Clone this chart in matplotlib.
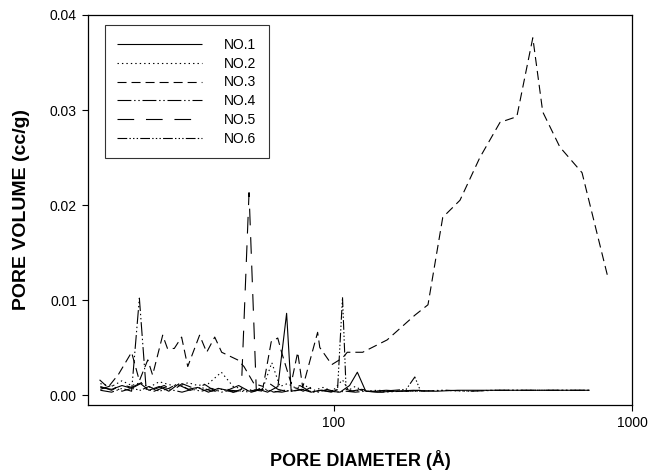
import numpy as np
import matplotlib
matplotlib.use('Agg')
import matplotlib.pyplot as plt

plt.rcParams['font.family'] = ['Liberation Sans', 'DejaVu Sans']
plt.rcParams['lines.scale_dashes'] = False

# pore diameter (A) / pore volume (cc/g)
x1 = [16.5, 18, 19.5, 21, 22.5, 24, 26, 28, 30, 32.5, 35, 38, 41, 44, 48, 52, 56, 60, 65, 69.5,
      72, 78, 84, 90, 97, 105, 113, 120, 128, 140, 160, 185, 220, 260, 310, 370, 440, 520, 620, 720]
y1 = [0.0008, 0.0006, 0.0010, 0.0007, 0.0012, 0.0005, 0.0009, 0.0004, 0.0011, 0.0006,
      0.0008, 0.0003, 0.0007, 0.0005, 0.0010, 0.0004, 0.0006, 0.0003, 0.0009, 0.0086,
      0.0004, 0.0006, 0.0003, 0.0005, 0.0004, 0.0003, 0.0010, 0.0024, 0.0004, 0.0003,
      0.0004, 0.0005, 0.0004, 0.0005, 0.0005, 0.0005, 0.0005, 0.0005, 0.0005, 0.0005]

x2 = [16.5, 18, 19.5, 21, 22.5, 24, 26, 28, 30, 32.5, 35, 38, 42, 46, 50, 54, 58, 62, 66, 70,
      75, 80, 86, 92, 99, 107, 112, 118, 126, 140, 160, 190, 230, 280, 340, 420, 520, 620, 720]
y2 = [0.0012, 0.0009, 0.0015, 0.0010, 0.0013, 0.0008, 0.0014, 0.0011, 0.0009, 0.0013,
      0.0010, 0.0012, 0.0024, 0.0009, 0.0006, 0.0005, 0.0008, 0.0034, 0.0009, 0.0012,
      0.0007, 0.0010, 0.0005, 0.0008, 0.0004, 0.0016, 0.0005, 0.0009, 0.0004, 0.0005,
      0.0004, 0.0004, 0.0005, 0.0004, 0.0005, 0.0005, 0.0005, 0.0005, 0.0005]

x3 = [16.4, 17.5, 19, 21, 22.3, 23.8, 24.7, 26.7, 27.7, 29.2, 30.9, 32.4, 35.5, 37.5, 39.9,
      42.1, 47.6, 50, 54, 58, 61.7, 64.9, 67, 72, 75.7, 78.7, 88.3, 89.8, 98.5, 107, 111,
      125, 151, 187, 207, 232, 265, 309, 361, 411, 465, 502, 573, 680, 830]
y3 = [0.0016, 0.0008, 0.0022, 0.0045, 0.0015, 0.0037, 0.0021, 0.0063, 0.0049, 0.0049,
      0.0061, 0.0030, 0.0063, 0.0045, 0.0061, 0.0045, 0.0037, 0.0030, 0.0012, 0.0009,
      0.0056, 0.0060, 0.0044, 0.0012, 0.0045, 0.0008, 0.0066, 0.0050, 0.0032, 0.0039,
      0.0045, 0.0045, 0.0058, 0.0084, 0.0095, 0.0187, 0.0205, 0.0250, 0.0287, 0.0293,
      0.0376, 0.0298, 0.0261, 0.0234, 0.0124]

x4 = [16.5, 18, 19.5, 21, 22.3, 23.5, 25, 27, 29, 31, 33.5, 36, 39, 42, 45, 49, 53, 57, 62,
      67, 72, 77, 83, 89, 95, 102, 110, 118, 128, 145, 170, 200, 240, 290, 350, 430, 530, 640, 720]
y4 = [0.0005, 0.0003, 0.0007, 0.0004, 0.0102, 0.0006, 0.0004, 0.0008, 0.0005, 0.0003,
      0.0006, 0.0004, 0.0007, 0.0003, 0.0005, 0.0004, 0.0003, 0.0006, 0.0004, 0.0003,
      0.0005, 0.0010, 0.0004, 0.0003, 0.0006, 0.0003, 0.0004, 0.0003, 0.0004, 0.0003,
      0.0004, 0.0004, 0.0005, 0.0004, 0.0005, 0.0005, 0.0005, 0.0005, 0.0005]

x5 = [16.5, 18, 19.5, 21, 23, 25, 27, 29, 31, 34, 37, 40, 43, 46, 49, 52, 55, 58, 61, 65, 69,
      74, 79, 85, 91, 98, 106, 114, 124, 135, 150, 170, 195]
y5 = [0.0009, 0.0005, 0.0011, 0.0008, 0.0014, 0.0006, 0.0010, 0.0005, 0.0012, 0.0007,
      0.0011, 0.0004, 0.0008, 0.0003, 0.0006, 0.0213, 0.0005, 0.0004, 0.0012, 0.0006,
      0.0004, 0.0008, 0.0004, 0.0009, 0.0005, 0.0003, 0.0007, 0.0004, 0.0006, 0.0004,
      0.0005, 0.0004, 0.0005]

x6 = [16.5, 18, 19.5, 21, 22.5, 24, 26, 28, 30, 33, 36, 39, 42, 46, 50, 54, 58, 63, 68, 73,
      79, 85, 91, 97, 103, 107, 110, 116, 123, 132, 145, 160, 175, 187, 195]
y6 = [0.0006, 0.0010, 0.0004, 0.0007, 0.0005, 0.0009, 0.0004, 0.0007, 0.0012, 0.0005,
      0.0008, 0.0004, 0.0006, 0.0003, 0.0005, 0.0004, 0.0007, 0.0003, 0.0005, 0.0004,
      0.0006, 0.0003, 0.0005, 0.0004, 0.0006, 0.0103, 0.0006, 0.0004, 0.0005, 0.0004,
      0.0004, 0.0005, 0.0006, 0.0019, 0.0005]

labels = ['NO.1', 'NO.2', 'NO.3', 'NO.4', 'NO.5', 'NO.6']
dash_styles = [
    (0, ()),
    (0, (1.0, 2.2)),
    (0, (6.5, 3.6)),
    (0, (10.0, 2.0, 1.0, 2.0, 1.0, 2.0)),
    (0, (12.0, 8.5)),
    (0, (7.0, 1.6, 1.0, 1.6, 1.0, 1.6, 1.0, 1.6)),
]

fig = plt.figure(figsize=(6.5, 4.72), dpi=100)
ax = fig.add_axes([88/650, (472-405)/472, 544/650, 390/472])

series = [(x1, y1), (x2, y2), (x3, y3), (x4, y4), (x5, y5), (x6, y6)]
for (xs, ys), lab, ls in zip(series, labels, dash_styles):
    ax.plot(xs, ys, color='black', lw=0.8, linestyle=ls, label=lab)

ax.set_xscale('log')
ax.set_xlim(15, 1000)
ax.set_ylim(-0.00105, 0.04)
ax.set_xticks([100, 1000])
ax.set_xticklabels(['100', '1000'])
ax.xaxis.set_minor_locator(matplotlib.ticker.NullLocator())
ax.set_yticks([0, 0.01, 0.02, 0.03, 0.04])
ax.set_yticklabels(['0.00', '0.01', '0.02', '0.03', '0.04'])
ax.tick_params(direction='out', length=4, width=0.8, labelsize=10, pad=4)
for s in ax.spines.values():
    s.set_linewidth(0.9)

ax.set_xlabel('PORE DIAMETER (Å)', fontsize=13, fontweight='bold', labelpad=14)
ax.set_ylabel('PORE VOLUME (cc/g)', fontsize=14, fontweight='bold', labelpad=14)

leg = ax.legend(loc='upper left', bbox_to_anchor=(0.031, 0.974), fontsize=10,
                handlelength=6.1, handletextpad=1.6, labelspacing=0.35,
                frameon=True, fancybox=False, edgecolor='black', borderpad=0.9,
                borderaxespad=0)
leg.get_frame().set_linewidth(0.8)

plt.savefig('out.png', dpi=100)
